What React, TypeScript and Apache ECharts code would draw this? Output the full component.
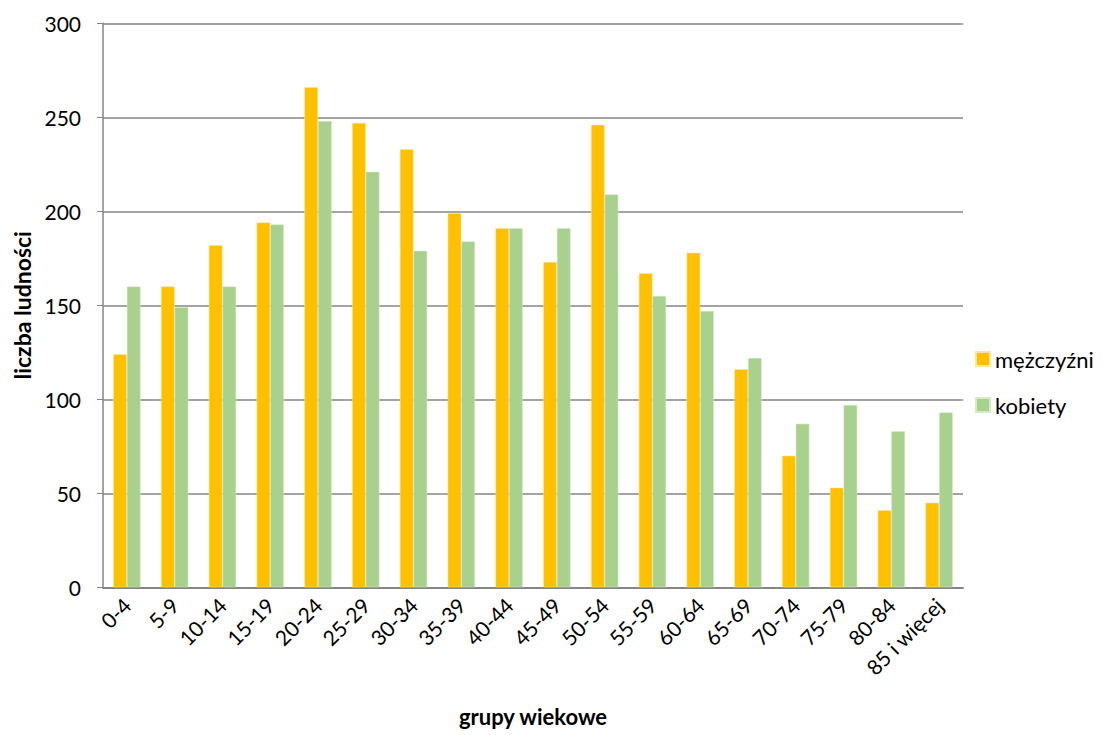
import React, { useEffect, useRef } from "react";
import * as echarts from "echarts";

const categories = ["0-4", "5-9", "10-14", "15-19", "20-24", "25-29", "30-34", "35-39", "40-44", "45-49", "50-54", "55-59", "60-64", "65-69", "70-74", "75-79", "80-84", "85 i więcej"];
const men = [124, 160, 182, 194, 266, 247, 233, 199, 191, 173, 246, 167, 178, 116, 70, 53, 41, 45];
const women = [160, 149, 160, 193, 248, 221, 179, 184, 191, 191, 209, 155, 147, 122, 87, 97, 83, 93];
const seriesNames = ["mężczyźni", "kobiety"];
const yTicks = { min: 0, max: 300, interval: 50 };

const FONT = "Lato, 'Open Sans', sans-serif";

export default function App() {
  const ref = useRef<HTMLDivElement>(null);
  useEffect(() => {
    if (!ref.current) return;
    const chart = echarts.init(ref.current, undefined, { renderer: "svg" });
    chart.setOption({
      animation: false,
      backgroundColor: "#ffffff",
      textStyle: { fontFamily: FONT },
      grid: { left: 103, right: 140, top: 23.3, bottom: 147.7, containLabel: false, outerBoundsMode: "none" },
      legend: {
        orient: "vertical",
        left: 970,
        top: 343,
        itemWidth: 14,
        itemHeight: 14,
        itemGap: 24,
        icon: "rect",
        textStyle: { fontSize: 22, color: "#000", fontFamily: FONT },
        data: seriesNames,
      },
      xAxis: {
        type: "category",
        data: categories,
        name: "grupy wiekowe",
        nameLocation: "middle",
        nameGap: 118,
        nameTextStyle: { fontSize: 22, fontWeight: "bold", color: "#000", fontFamily: FONT },
        axisLine: { lineStyle: { color: "#868686", width: 2 } },
        axisTick: { show: false },
        axisLabel: { rotate: 45, fontSize: 21, color: "#000", margin: 14, interval: 0, fontFamily: FONT },
      },
      yAxis: {
        type: "value",
        min: yTicks.min,
        max: yTicks.max,
        interval: yTicks.interval,
        name: "liczba ludności",
        nameLocation: "middle",
        nameGap: 70,
        nameRotate: 90,
        nameTextStyle: { fontSize: 23, fontWeight: "bold", color: "#000", fontFamily: FONT },
        axisLine: { show: true, lineStyle: { color: "#868686", width: 1.5 } },
        axisTick: { show: true, length: 6, lineStyle: { color: "#868686" } },
        axisLabel: { fontSize: 21, color: "#000", margin: 22, fontFamily: FONT },
        splitLine: { lineStyle: { color: "#868686", width: 1.5 } },
      },
      series: [
        {
          name: seriesNames[0],
          type: "bar",
          data: men,
          barGap: "0%",
          barCategoryGap: "43%",
          itemStyle: { color: "#FFC000", borderColor: "#FFE6A0", borderWidth: 0.5 },
        },
        {
          name: seriesNames[1],
          type: "bar",
          data: women,
          itemStyle: { color: "#A9D18E", borderColor: "#D6EBC8", borderWidth: 0.5 },
        },
      ],
    });
    return () => chart.dispose();
  }, []);
  return <div ref={ref} style={{ position: "fixed", left: 0, top: 0, width: 1103, height: 735 }} />;
}
